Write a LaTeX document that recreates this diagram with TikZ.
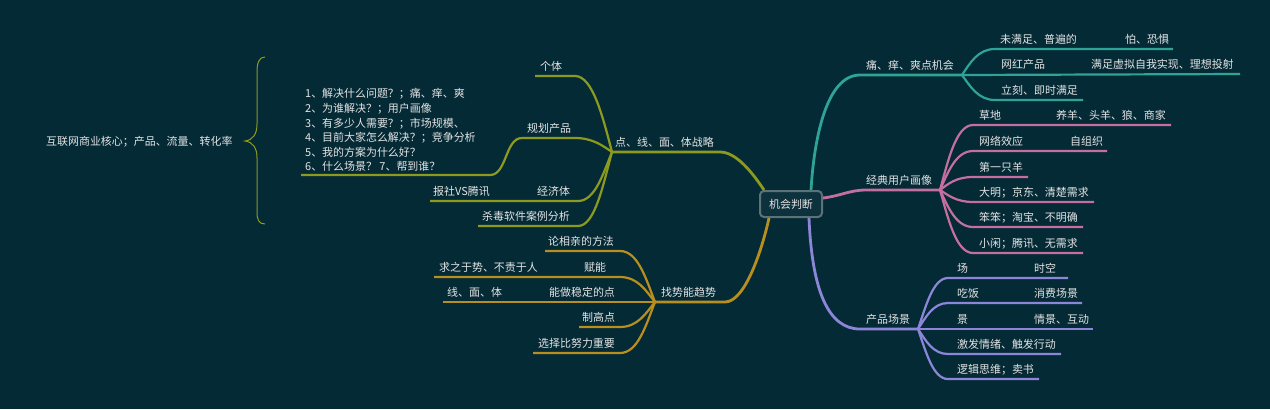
\documentclass[tikz,border=0pt]{standalone}
\usepackage{fontspec}
\setmainfont{Noto Sans CJK SC}
\definecolor{bgc}{HTML}{042A36}
\definecolor{txt}{HTML}{E4E4E4}
\definecolor{cteal}{HTML}{2FA396}
\definecolor{cpink}{HTML}{C46FA0}
\definecolor{cpurp}{HTML}{8C86D9}
\definecolor{colive}{HTML}{8C9B1D}
\definecolor{cgold}{HTML}{B88F1F}
\definecolor{boxb}{HTML}{5B7276}
\definecolor{boxf}{HTML}{0D323D}
\begin{document}
\begin{tikzpicture}[x=1bp,y=-1bp,
  lbl/.style={anchor=base west, inner sep=0pt, text=txt, font=\fontsize{11}{13}\selectfont},
  mainline/.style={line width=2.8bp},
  subline/.style={line width=2.2bp}]
\fill[bgc] (0,0) rectangle (1270,409);
\useasboundingbox (0,0) rectangle (1270,409);

% centre
\node[draw=boxb, line width=2bp, fill=boxf, rounded corners=4bp, minimum width=62bp, minimum height=26bp, inner sep=0pt, text=txt, font=\fontsize{11}{13}\selectfont] (c) at (791,204) {机会判断};

% ---------- teal ----------
\node[lbl] (t) at (866,69) {痛、痒、爽点机会};
\coordinate (tA) at (860,75); \coordinate (tF) at (962,75);
\draw[cteal, mainline] ([xshift=-12bp]c.north east) .. controls (814,140) and (826,75) .. (tA) -- (tF);
\node[lbl] (t1) at (1000,43) {未满足、普遍的};
\node[lbl] (t1a) at (1125,43) {怕、恐惧};
\coordinate (t1L) at (995,49); \coordinate (t1R) at (1173,49);
\draw[cteal, subline] (tF) .. controls (970,63) and (978,49) .. (t1L) -- (t1R);
\node[lbl] (t2) at (1001,68) {网红产品};
\node[lbl] (t2a) at (1091,68) {满足虚拟自我实现、理想投射};
\coordinate (t2R) at (1240,74);
\draw[cteal, subline] (tF) -- (t2R);
\node[lbl] (t3) at (1001,94) {立刻、即时满足};
\coordinate (t3L) at (995,100); \coordinate (t3R) at (1083,100);
\draw[cteal, subline] (tF) .. controls (970,86) and (978,100) .. (t3L) -- (t3R);

% ---------- pink ----------
\node[lbl] (p) at (866,184) {经典用户画像};
\coordinate (pA) at (866,190); \coordinate (pF) at (940,190);
\draw[cpink, mainline] ([yshift=6bp]c.east) .. controls (840,196) and (850,190) .. (pA) -- (pF);
\node[lbl] (p1) at (979,119) {草地};
\node[lbl] (p1a) at (1056,119) {养羊、头羊、狼、商家};
\coordinate (p1L) at (973,125); \coordinate (p1R) at (1171,125);
\draw[cpink, subline] (pF) .. controls (948,161) and (956,125) .. (p1L) -- (p1R);
\node[lbl] (p2) at (979,145) {网络效应};
\node[lbl] (p2a) at (1070,145) {自组织};
\coordinate (p2L) at (973,151); \coordinate (p2R) at (1107,151);
\draw[cpink, subline] (pF) .. controls (948,172) and (956,151) .. (p2L) -- (p2R);
\node[lbl] (p3) at (979,171) {第一只羊};
\coordinate (p3L) at (973,177); \coordinate (p3R) at (1028,177);
\draw[cpink, subline] (pF) .. controls (948,184) and (956,177) .. (p3L) -- (p3R);
\node[lbl] (p4) at (979,196) {大明；京东、清楚需求};
\coordinate (p4L) at (973,202); \coordinate (p4R) at (1094,202);
\draw[cpink, subline] (pF) .. controls (948,195) and (956,202) .. (p4L) -- (p4R);
\node[lbl] (p5) at (979,221) {笨笨；淘宝、不明确};
\coordinate (p5L) at (973,227); \coordinate (p5R) at (1083,227);
\draw[cpink, subline] (pF) .. controls (948,207) and (956,227) .. (p5L) -- (p5R);
\node[lbl] (p6) at (979,247) {小闲；腾讯、无需求};
\coordinate (p6L) at (973,253); \coordinate (p6R) at (1083,253);
\draw[cpink, subline] (pF) .. controls (948,218) and (956,253) .. (p6L) -- (p6R);

% ---------- purple ----------
\node[lbl] (q) at (866,323) {产品场景};
\coordinate (qA) at (860,329); \coordinate (qF) at (918,329);
\draw[cpurp, mainline] ([xshift=-14bp]c.south east) .. controls (812,290) and (828,329) .. (qA) -- (qF);
\node[lbl] (q1) at (957,272) {场};
\node[lbl] (q1a) at (1034,272) {时空};
\coordinate (q1L) at (948,278); \coordinate (q1R) at (1068,278);
\draw[cpurp, subline] (qF) .. controls (926,306) and (933,278) .. (q1L) -- (q1R);
\node[lbl] (q2) at (957,297) {吃饭};
\node[lbl] (q2a) at (1034,297) {消费场景};
\coordinate (q2L) at (948,303); \coordinate (q2R) at (1082,303);
\draw[cpurp, subline] (qF) .. controls (926,317) and (933,303) .. (q2L) -- (q2R);
\node[lbl] (q3) at (957,323) {景};
\node[lbl] (q3a) at (1034,323) {情景、互动};
\coordinate (q3R) at (1093,329);
\draw[cpurp, subline] (qF) -- (q3R);
\node[lbl] (q4) at (957,348) {激发情绪、触发行动};
\coordinate (q4L) at (948,354); \coordinate (q4R) at (1061,354);
\draw[cpurp, subline] (qF) .. controls (926,341) and (933,354) .. (q4L) -- (q4R);
\node[lbl] (q5) at (957,373) {逻辑思维；卖书};
\coordinate (q5L) at (948,379); \coordinate (q5R) at (1039,379);
\draw[cpurp, subline] (qF) .. controls (926,352) and (933,379) .. (q5L) -- (q5R);

% ---------- olive ----------
\node[lbl] (o) at (615,146) {点、线、面、体战略};
\coordinate (oA) at (720,152); \coordinate (oF) at (612,152);
\draw[colive, mainline] ([xshift=5bp]c.north west) .. controls (752,172) and (736,152) .. (oA) -- (oF);
\node[lbl] (o1) at (540,70) {个体};
\coordinate (o1R) at (575,76); \coordinate (o1L) at (535,76);
\draw[colive, subline] (oF) .. controls (603,118) and (593,76) .. (o1R) -- (o1L);
\node[lbl] (o2) at (527,132) {规划产品};
\coordinate (o2R) at (575,138); \coordinate (o2L) at (522,138);
\draw[colive, subline] (oF) .. controls (603,146) and (593,138) .. (o2R) -- (o2L);
\node[lbl, align=left, anchor=north west, font=\fontsize{11}{14.6}\selectfont] (o2a) at (305,88.5) {1、解决什么问题？；痛、痒、爽\\2、为谁解决？；用户画像\\3、有多少人需要？；市场规模、\\4、目前大家怎么解决？；竞争分析\\5、我的方案为什么好？\\6、什么场景？ 7、帮到谁？};
\coordinate (o2aR) at (490,175); \coordinate (o2aL) at (301,175);
\draw[colive, subline] (o2L) .. controls (505,138) and (507,175) .. (o2aR) -- (o2aL);
\node[lbl] (o3) at (537,195) {经济体};
\node[lbl] (o3a) at (433,195) {报社VS腾讯};
\coordinate (o3R) at (578,201); \coordinate (o3L) at (430,201);
\draw[colive, subline] (oF) .. controls (603,174) and (595,201) .. (o3R) -- (o3L);
\node[lbl] (o4) at (482,220) {杀毒软件案例分析};
\coordinate (o4R) at (578,226); \coordinate (o4L) at (478,226);
\draw[colive, subline] (oF) .. controls (603,185) and (595,226) .. (o4R) -- (o4L);

% brace and root text
\node[lbl] (r) at (46,145) {互联网商业核心；产品、流量、转化率};
\coordinate (bT) at (265,57); \coordinate (bM) at (245,141); \coordinate (bB) at (265,224);
\draw[colive, line width=1bp] (bT) .. controls (259,57) and (257,63) .. (257,72) -- (257,124)
   .. controls (257,134) and (253,140) .. (bM)
   .. controls (253,142) and (257,148) .. (257,158) -- (257,212)
   .. controls (257,220) and (259,224) .. (bB);

% ---------- gold ----------
\node[lbl] (g) at (661,296) {找势能趋势};
\coordinate (gA) at (725,302); \coordinate (gF) at (655,302);
\draw[cgold, mainline] ([xshift=10bp]c.south west) .. controls (762,250) and (745,302) .. (gA) -- (gF);
\node[lbl] (g1) at (548,245) {论相亲的方法};
\coordinate (g1R) at (620,251); \coordinate (g1L) at (545,251);
\draw[cgold, subline] (gF) .. controls (646,279) and (638,251) .. (g1R) -- (g1L);
\node[lbl] (g2) at (584,271) {赋能};
\node[lbl] (g2a) at (439,271) {求之于势、不责于人};
\coordinate (g2R) at (620,277); \coordinate (g2L) at (434,277);
\draw[cgold, subline] (gF) .. controls (646,291) and (638,277) .. (g2R) -- (g2L);
\node[lbl] (g3) at (549,296) {能做稳定的点};
\node[lbl] (g3a) at (447,296) {线、面、体};
\coordinate (g3L) at (443,302);
\draw[cgold, subline] (gF) -- (g3L);
\node[lbl] (g4) at (582,321) {制高点};
\coordinate (g4R) at (620,327); \coordinate (g4L) at (579,327);
\draw[cgold, subline] (gF) .. controls (646,313) and (638,327) .. (g4R) -- (g4L);
\node[lbl] (g5) at (538,347) {选择比努力重要};
\coordinate (g5R) at (620,353); \coordinate (g5L) at (533,353);
\draw[cgold, subline] (gF) .. controls (646,325) and (638,353) .. (g5R) -- (g5L);
\end{tikzpicture}
\end{document}
